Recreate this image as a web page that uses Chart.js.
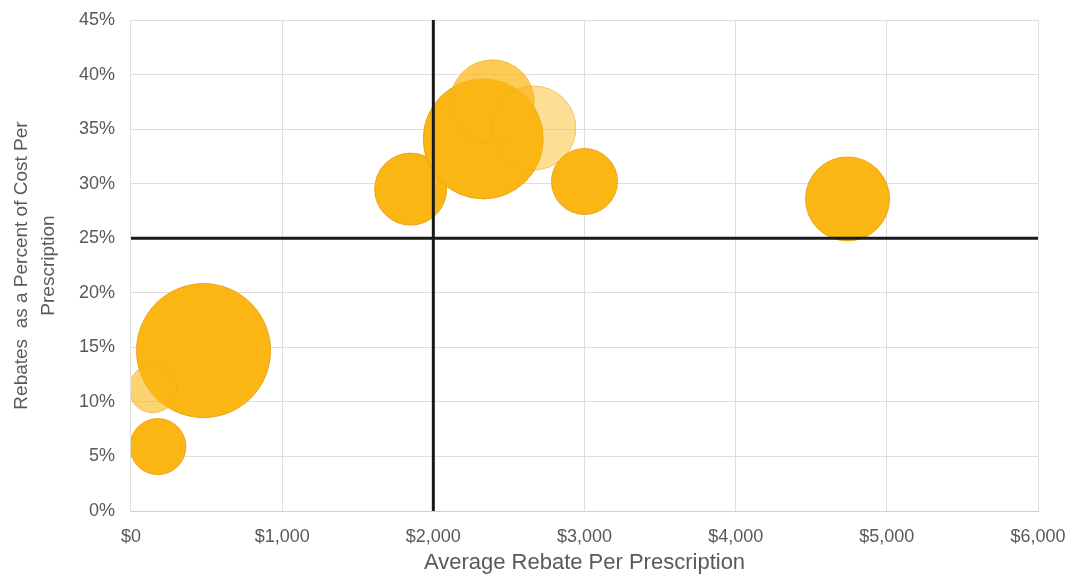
<!DOCTYPE html>
<html>
<head>
<meta charset="utf-8">
<script src="https://cdn.jsdelivr.net/npm/chart.js@4.4.1/dist/chart.umd.min.js"></script>
<style>
  html, body { margin: 0; padding: 0; background: #fff; }
  #wrap { width: 1070px; height: 576px; }
</style>
</head>
<body>
<div id="wrap"><canvas id="chart" width="1070" height="576"></canvas></div>
<script>
// Average rebate vs rebate share, one bubble per drug class
const rebateDollars = [480, 145, 178, 1850, 2330, 2390, 2665, 3000, 4740];
const rebatePercent = [14.7, 11.2, 5.9, 29.5, 34.1, 37.5, 35.1, 30.2, 28.6];
const bubbleRadius  = [67, 24, 28, 36, 60, 42, 42, 33, 42];

// Quadrant split
const splitDollars = 2000;
const splitPercent = 25;

const xTicks = [0, 1000, 2000, 3000, 4000, 5000, 6000];
const yTicks = [0, 5, 10, 15, 20, 25, 30, 35, 40, 45];

// lighter bubbles are drawn see-through
const fillAlpha = [1, 0.6, 1, 1, 1, 0.72, 0.45, 1, 1];

const points = rebateDollars.map((x, i) => ({ x, y: rebatePercent[i], r: bubbleRadius[i] }));

const textGrey = '#595959';
Chart.defaults.font.family = "'Liberation Sans', Arial, sans-serif";

// invisible tick marks give the label gap without widening the edge padding
const gridStyle = tickLength => ({
  color: '#dedede', lineWidth: 1, drawTicks: true, tickLength, tickColor: 'rgba(0,0,0,0)',
});

new Chart(document.getElementById('chart'), {
  type: 'bubble',
  data: {
    datasets: [
      {
        type: 'line',
        data: [{ x: xTicks[0], y: splitPercent }, { x: xTicks[xTicks.length - 1], y: splitPercent }],
        borderColor: '#1a1a1a', borderWidth: 3, pointRadius: 0, order: 0, clip: false,
      },
      {
        type: 'line',
        data: [{ x: splitDollars, y: yTicks[0] }, { x: splitDollars, y: yTicks[yTicks.length - 1] }],
        borderColor: '#1a1a1a', borderWidth: 3, pointRadius: 0, order: 0, clip: false,
      },
      {
        data: points,
        backgroundColor: ctx => `rgba(252, 182, 20, ${fillAlpha[ctx.dataIndex]})`,
        borderColor: ctx => fillAlpha[ctx.dataIndex] < 1 ? 'rgba(235, 170, 40, 0.6)' : 'rgba(232, 160, 20, 0.9)',
        borderWidth: 1,
        order: 1,
      },
    ],
  },
  options: {
    responsive: false,
    animation: false,
    layout: { autoPadding: false, padding: { left: 8, right: 32, top: 20, bottom: 0 } },
    plugins: { legend: { display: false }, tooltip: { enabled: false } },
    scales: {
      x: {
        type: 'linear',
        min: 0, max: 6000,
        afterBuildTicks: axis => { axis.ticks = xTicks.map(value => ({ value })); },
        ticks: {
          color: textGrey, font: { size: 18 }, padding: 0, maxRotation: 0,
          callback: v => '$' + v.toLocaleString('en-US'),
        },
        grid: gridStyle(15),
        border: { color: '#cfcfcf' },
        title: {
          display: true, text: 'Average Rebate Per Prescription',
          color: textGrey, font: { size: 22 }, padding: { top: 2, bottom: 0 },
        },
      },
      y: {
        type: 'linear',
        min: 0, max: 45,
        afterBuildTicks: axis => { axis.ticks = yTicks.map(value => ({ value })); },
        ticks: {
          color: textGrey, font: { size: 18 }, padding: 0,
          callback: v => v + '%',
        },
        grid: gridStyle(16),
        border: { color: '#dedede' },
        title: {
          display: true, text: ['Rebates  as a Percent of Cost Per', 'Prescription'],
          color: textGrey, font: { size: 19, lineHeight: 1.42 }, padding: { top: 0, bottom: 17 },
        },
      },
    },
  },
});
</script>
</body>
</html>
